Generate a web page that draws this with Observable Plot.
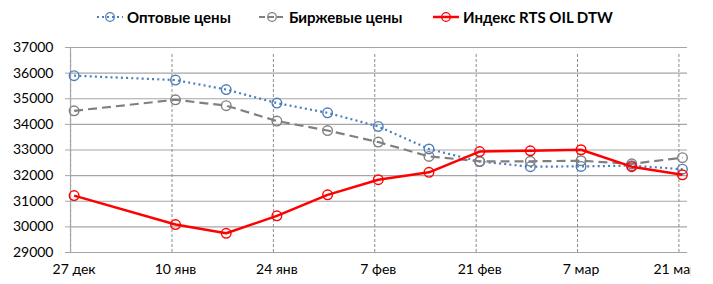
<!DOCTYPE html>
<html>
<head>
<meta charset="utf-8">
<script src="https://cdn.jsdelivr.net/npm/d3@7"></script>
<script src="https://cdn.jsdelivr.net/npm/@observablehq/plot@0.6"></script>
<style>
  html, body { margin: 0; padding: 0; background: #fff; width: 713px; height: 284px; overflow: hidden; }
  #legend { position: relative; height: 34px; font-family: Lato, "Open Sans", sans-serif; font-weight: bold; font-size: 15px; color: #000; }
  .item { position: absolute; top: 0; height: 34px; display: flex; align-items: center; white-space: nowrap; }
  .item svg { margin-right: 4px; }
  #chart { clip-path: inset(0 22px 0 0); }
</style>
</head>
<body>
<div id="legend"></div>
<div id="chart"></div>
<script>
const dates = ["2021-12-27","2022-01-10","2022-01-17","2022-01-24","2022-01-31","2022-02-07","2022-02-14","2022-02-21","2022-02-28","2022-03-07","2022-03-14","2022-03-21"];
const wholesale = [35900, 35730, 35360, 34830, 34450, 33920, 33040, 32550, 32350, 32360, 32390, 32250];
const exchange  = [34530, 34960, 34730, 34130, 33760, 33310, 32750, 32560, 32560, 32580, 32460, 32700];
const rtsIndex  = [31220, 30090, 29750, 30430, 31250, 31840, 32130, 32940, 32970, 33010, 32350, 32030];
const seriesNames = ["Оптовые цены", "Биржевые цены", "Индекс RTS OIL DTW"];
const tickDates = ["2021-12-27","2022-01-10","2022-01-24","2022-02-07","2022-02-21","2022-03-07","2022-03-21"];
const tickLabels = ["27 дек","10 янв","24 янв","7 фев","21 фев","7 мар","21 мар"];
const yTicks = [29000, 30000, 31000, 32000, 33000, 34000, 35000, 36000, 37000];

const styles = [
  {stroke: "#4a7ebb", dash: "2,3.2", width: 2.2, legendX: 97},
  {stroke: "#808080", dash: "9,5", width: 2.2, legendX: 259},
  {stroke: "#ff0000", dash: null, width: 2.5, legendX: 433}
];

const parse = s => new Date(s + "T00:00:00Z");
const allValues = [wholesale, exchange, rtsIndex];
const rows = [];
allValues.forEach((vals, si) => vals.forEach((v, i) => rows.push({series: seriesNames[si], date: parse(dates[i]), value: v})));
const ticks = tickDates.map(parse);
const lastTick = ticks.length - 1;

const fontFamily = "Lato, 'Open Sans', sans-serif";
const day = 86400000;
const xDomain = [new Date(parse(dates[0]) - 0.5 * day), new Date(+parse(dates[dates.length - 1]) + 0.7 * day)];

const marks = [
  Plot.gridY(yTicks, {stroke: "#a6a6a6", strokeOpacity: 1, strokeWidth: 1.2}),
  Plot.ruleX(ticks, {x: d => d, y1: yTicks[0], y2: yTicks[yTicks.length - 1], stroke: "#8c8c8c", strokeDasharray: "3,2", strokeWidth: 1, dx: -3.5, insetBottom: -5}),
  Plot.frame({anchor: "left", stroke: "#a6a6a6", strokeWidth: 1.2}),
  Plot.axisY(yTicks, {tickSize: 5, tickPadding: 12, stroke: "#a6a6a6", fontSize: 14, fill: "#000", label: null, tickFormat: d => String(d)}),
  Plot.text(ticks.slice(0, lastTick), {x: d => d, frameAnchor: "bottom", dy: 21, text: (d, i) => tickLabels[i], fontSize: 14, fill: "#000"}),
  Plot.text([ticks[lastTick]], {x: d => d, frameAnchor: "bottom", dy: 21, dx: -29, textAnchor: "start", text: () => tickLabels[lastTick], fontSize: 14, fill: "#000"})
];
seriesNames.forEach((name, si) => {
  const data = rows.filter(r => r.series === name);
  const st = styles[si];
  marks.push(Plot.line(data, {x: "date", y: "value", stroke: st.stroke, strokeWidth: st.width, strokeDasharray: st.dash, strokeLinecap: "butt"}));
  marks.push(Plot.dot(data, {x: "date", y: "value", r: 4.8, stroke: st.stroke, strokeWidth: 1.4, fill: "none"}));
});

const chart = Plot.plot({
  width: 713,
  height: 250,
  marginTop: 13,
  marginBottom: 32,
  marginLeft: 70,
  marginRight: 26,
  style: {fontFamily, background: "white", overflow: "visible"},
  x: {type: "utc", domain: xDomain, axis: null},
  y: {domain: [29000, 37000], axis: null},
  marks
});
document.getElementById("chart").appendChild(chart);

const legend = document.getElementById("legend");
seriesNames.forEach((name, si) => {
  const st = styles[si];
  const item = document.createElement("div");
  item.className = "item";
  item.style.left = st.legendX + "px";
  item.innerHTML = `<svg width="26" height="12"><line x1="0" x2="26" y1="6" y2="6" stroke="${st.stroke}" stroke-width="${st.width}" ${st.dash ? `stroke-dasharray="${si === 0 ? '2,3' : '6,3'}"` : ""}/><circle cx="13" cy="6" r="4.3" fill="none" stroke="${st.stroke}" stroke-width="1.3"/></svg><span>${name}</span>`;
  legend.appendChild(item);
});
</script>
</body>
</html>
